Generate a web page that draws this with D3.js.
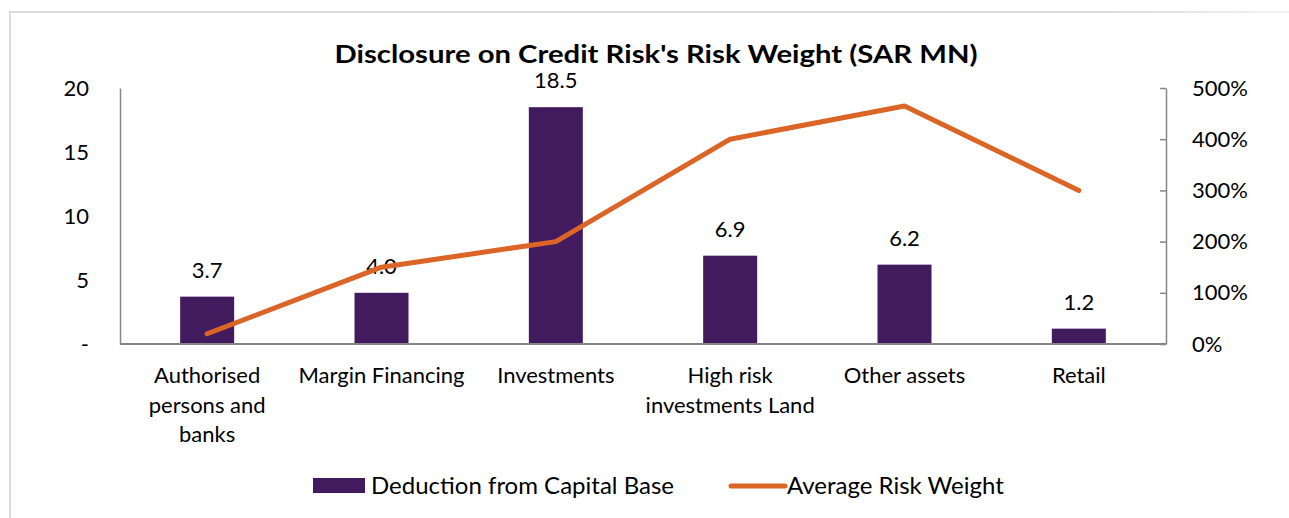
<!DOCTYPE html>
<html lang="en">
<head>
<meta charset="UTF-8">
<title>Credit Risk</title>
<script src="https://d3js.org/d3.v7.min.js"></script>
<style>
    body { margin: 0; background: #fff; }
    text { font-family: Lato, "Open Sans", sans-serif; fill: #000; }
    .title { font-size: 25px; font-weight: bold; text-anchor: middle; }
    .tick text { font-size: 22px; }
    .lbl { font-size: 22px; text-anchor: middle; }
    .leg { font-size: 24px; }
</style>
</head>
<body>
<script>
// DATA
const categories = [
    ["Authorised", "persons and", "banks"],
    ["Margin Financing"],
    ["Investments"],
    ["High risk", "investments Land"],
    ["Other assets"],
    ["Retail"]
];
const deduction = [3.7, 4.0, 18.5, 6.9, 6.2, 1.2];
const riskWeight = [0.2, 1.5, 2.0, 4.0, 4.65, 3.0];
const leftTicks = [0, 5, 10, 15, 20];
const rightTicks = [0, 1, 2, 3, 4, 5];

const width = 1289, height = 518;
const plotLeft = 120, plotRight = 1166, plotTop = 88, plotBottom = 344;

const svg = d3.select("body").append("svg")
    .attr("width", width)
    .attr("height", height);

// frame
const grad = svg.append("defs").append("linearGradient").attr("id", "fade");
grad.append("stop").attr("offset", "0%").attr("stop-color", "#dcdcdc");
grad.append("stop").attr("offset", "85%").attr("stop-color", "#dcdcdc");
grad.append("stop").attr("offset", "100%").attr("stop-color", "#f4f4f6");
svg.append("rect").attr("x", 10).attr("y", 12).attr("width", 1290).attr("height", 520)
    .attr("fill", "none").attr("stroke", "url(#fade)").attr("stroke-width", 2);

const x = d3.scaleBand().domain(d3.range(categories.length)).range([plotLeft, plotRight]);
const y = d3.scaleLinear().domain([0, 20]).range([plotBottom, plotTop]);
const y2 = d3.scaleLinear().domain([0, 5]).range([plotBottom, plotTop]);

// title
svg.append("text").attr("class", "title").attr("x", 656).attr("y", 63)
    .attr("textLength", 643).attr("lengthAdjust", "spacingAndGlyphs")
    .text("Disclosure on Credit Risk's Risk Weight (SAR MN)");

// left axis
const yAxis = svg.append("g").attr("transform", `translate(${plotLeft},0)`)
    .call(d3.axisLeft(y).tickValues(leftTicks).tickSize(0).tickPadding(31)
        .tickFormat(d => d === 0 ? "-" : d));
yAxis.select(".domain").attr("stroke", "#868686").attr("stroke-width", 1.5);

// right axis
const y2Axis = svg.append("g").attr("transform", `translate(${plotRight},0)`)
    .call(d3.axisRight(y2).tickValues(rightTicks).tickSizeInner(-6).tickSizeOuter(0).tickPadding(26)
        .tickFormat(d => d * 100 + "%"));
y2Axis.select(".domain").attr("stroke", "#868686").attr("stroke-width", 1.5);
y2Axis.selectAll(".tick line").attr("stroke", "#868686").attr("stroke-width", 1.5);

// bars
const bw = 54;
svg.selectAll(".bar").data(deduction).enter().append("rect")
    .attr("x", (d, i) => x(i) + x.bandwidth() / 2 - bw / 2)
    .attr("y", d => y(d))
    .attr("width", bw)
    .attr("height", d => y(0) - y(d))
    .attr("fill", "#421A5E");

// baseline
svg.append("line").attr("x1", plotLeft).attr("x2", plotRight).attr("y1", plotBottom).attr("y2", plotBottom)
    .attr("stroke", "#868686").attr("stroke-width", 2);

// bar labels
svg.selectAll(".blbl").data(deduction).enter().append("text")
    .attr("class", "lbl")
    .attr("x", (d, i) => x(i) + x.bandwidth() / 2)
    .attr("y", d => y(d) - 19)
    .text(d => d.toFixed(1));

// line
const line = d3.line()
    .x((d, i) => x(i) + x.bandwidth() / 2)
    .y(d => y2(d));
svg.append("path").attr("d", line(riskWeight))
    .attr("fill", "none").attr("stroke", "#DB6526").attr("stroke-width", 5)
    .attr("stroke-linecap", "round").attr("stroke-linejoin", "round");

// category labels
categories.forEach((lines, i) => {
    const t = svg.append("text").attr("class", "lbl")
        .attr("x", x(i) + x.bandwidth() / 2).attr("y", 383);
    lines.forEach((s, j) => {
        t.append("tspan").attr("x", x(i) + x.bandwidth() / 2).attr("dy", j === 0 ? 0 : 29.5).text(s);
    });
});

// legend
svg.append("rect").attr("x", 313).attr("y", 478).attr("width", 52).attr("height", 15).attr("fill", "#421A5E");
svg.append("text").attr("class", "leg").attr("x", 371).attr("y", 494).text("Deduction from Capital Base");
svg.append("line").attr("x1", 731).attr("x2", 785).attr("y1", 486).attr("y2", 486)
    .attr("stroke", "#DB6526").attr("stroke-width", 5).attr("stroke-linecap", "round");
svg.append("text").attr("class", "leg").attr("x", 787).attr("y", 494).text("Average Risk Weight");
</script>
</body>
</html>
